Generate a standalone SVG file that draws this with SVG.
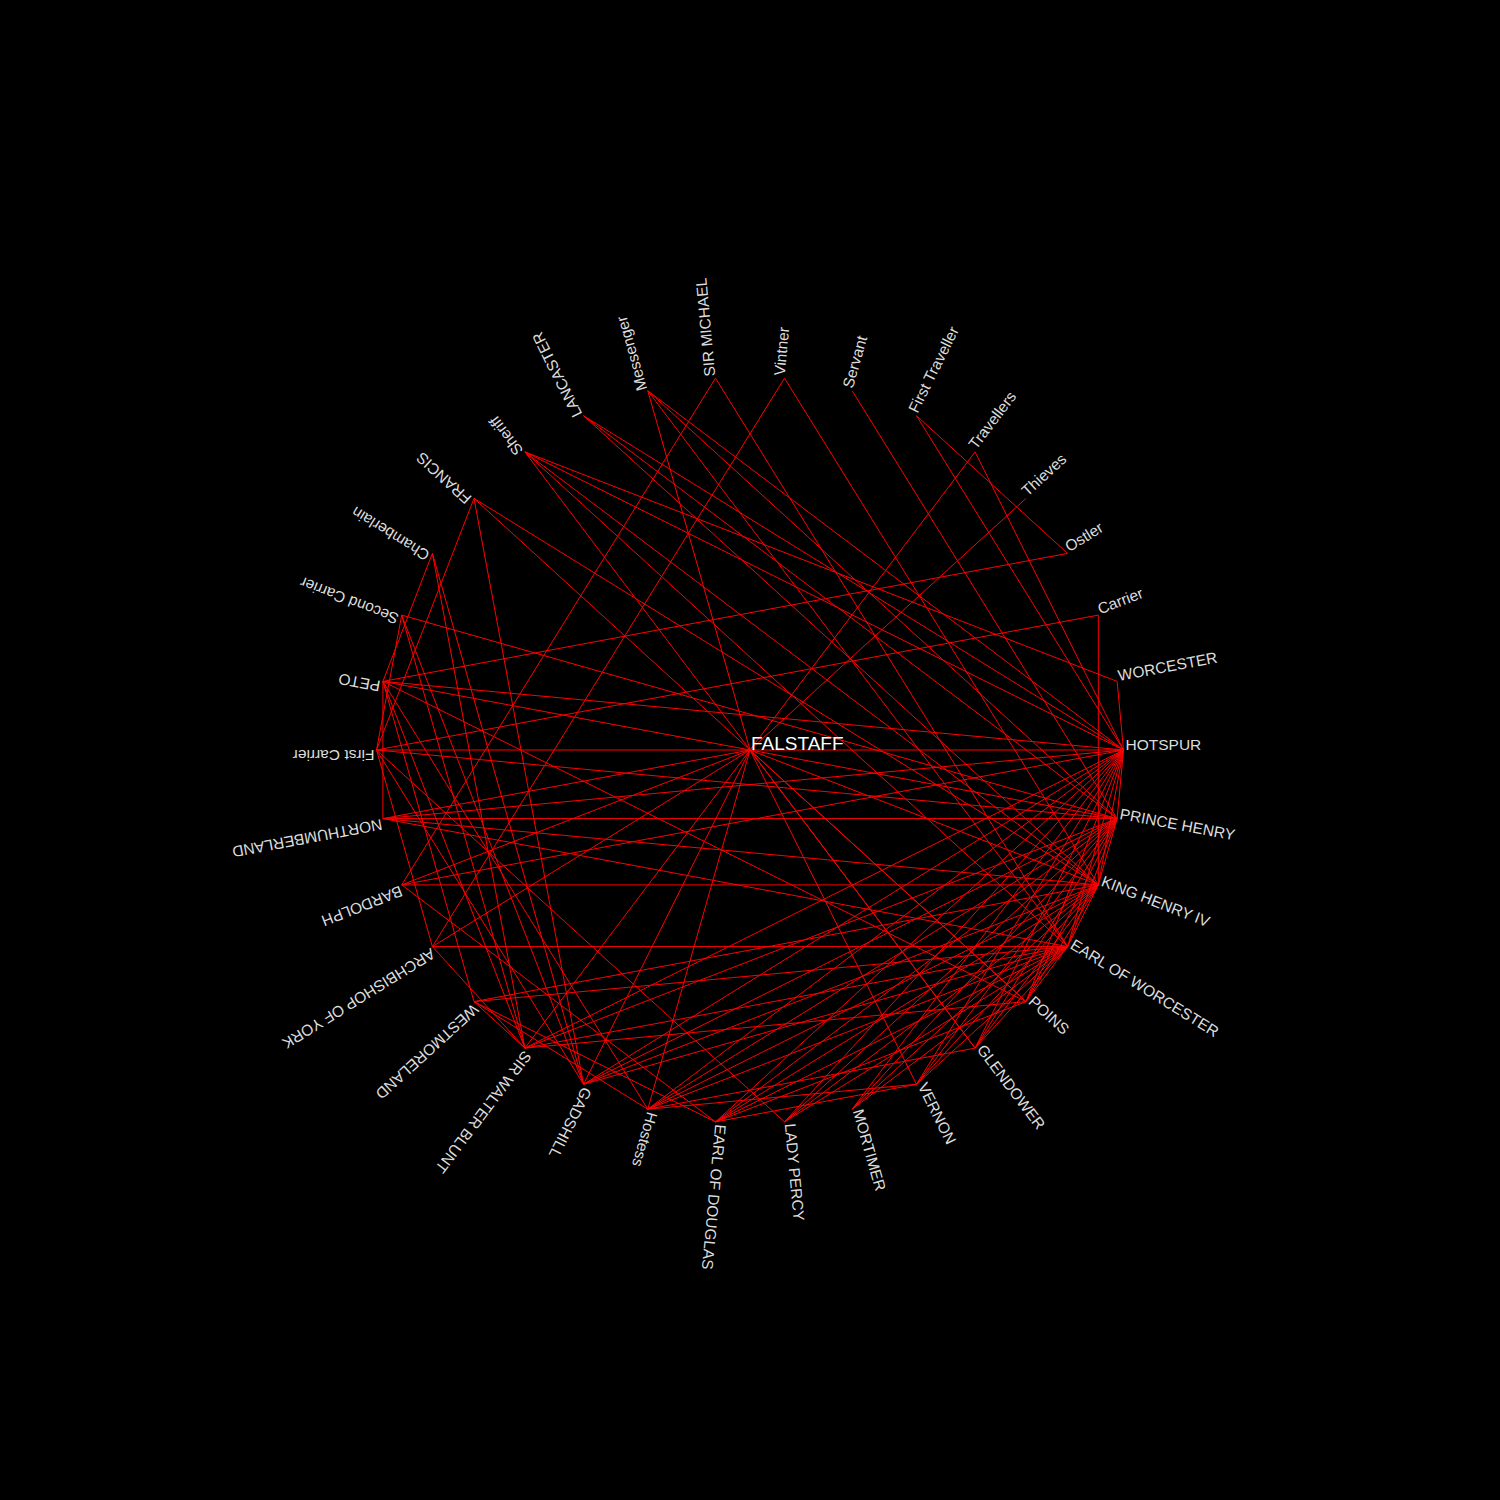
<svg xmlns="http://www.w3.org/2000/svg" width="1500" height="1500" viewBox="0 0 1500 1500">
<style>
.e line{stroke:#ff0000;stroke-width:1;fill:none}
.lbl{font-family:"Liberation Sans",Arial,Helvetica,sans-serif;font-size:15.5px;fill:#dcdcdc}
.main{font-family:"Liberation Sans",Arial,Helvetica,sans-serif;font-size:19px;fill:#ffffff}
</style>
<rect x="0" y="0" width="1500" height="1500" fill="#000000"/>
<g id="edges" class="e">
<line x1="1123.5" y1="750" x2="1117.1" y2="818.6"/>
<line x1="1123.5" y1="750" x2="1098.3" y2="884.9"/>
<line x1="1123.5" y1="750" x2="1067.6" y2="946.6"/>
<line x1="1117.1" y1="818.6" x2="1098.3" y2="884.9"/>
<line x1="1117.1" y1="818.6" x2="1067.6" y2="946.6"/>
<line x1="1098.3" y1="884.9" x2="1067.6" y2="946.6"/>
<line x1="1123.5" y1="750" x2="1117.1" y2="681.4"/>
<line x1="750" y1="750" x2="1123.5" y2="750"/>
<line x1="750" y1="750" x2="376.5" y2="750"/>
<line x1="750" y1="750" x2="647.8" y2="390.8"/>
<line x1="750" y1="750" x2="975.1" y2="451.9"/>
<line x1="750" y1="750" x2="1026.0" y2="498.4"/>
<line x1="750" y1="750" x2="401.7" y2="884.9"/>
<line x1="750" y1="750" x2="432.4" y2="946.6"/>
<line x1="750" y1="750" x2="524.9" y2="1048.1"/>
<line x1="750" y1="750" x2="583.5" y2="1084.3"/>
<line x1="750" y1="750" x2="647.8" y2="1109.2"/>
<line x1="750" y1="750" x2="1098.3" y2="884.9"/>
<line x1="750" y1="750" x2="1026.0" y2="1001.6"/>
<line x1="750" y1="750" x2="975.1" y2="1048.1"/>
<line x1="750" y1="750" x2="916.5" y2="1084.3"/>
<line x1="750" y1="750" x2="382.9" y2="818.6"/>
<line x1="1117.1" y1="681.4" x2="524.9" y2="451.9"/>
<line x1="1098.3" y1="615.1" x2="1098.3" y2="884.9"/>
<line x1="1098.3" y1="615.1" x2="376.5" y2="750"/>
<line x1="1067.6" y1="553.4" x2="382.9" y2="681.4"/>
<line x1="1067.6" y1="553.4" x2="916.5" y2="415.7"/>
<line x1="975.1" y1="451.9" x2="1123.5" y2="750"/>
<line x1="916.5" y1="415.7" x2="1123.5" y2="750"/>
<line x1="852.2" y1="390.8" x2="1117.1" y2="818.6"/>
<line x1="784.5" y1="378.1" x2="432.4" y2="946.6"/>
<line x1="784.5" y1="378.1" x2="1098.3" y2="884.9"/>
<line x1="715.5" y1="378.1" x2="401.7" y2="884.9"/>
<line x1="715.5" y1="378.1" x2="1067.6" y2="946.6"/>
<line x1="647.8" y1="390.8" x2="1123.5" y2="750"/>
<line x1="647.8" y1="390.8" x2="1117.1" y2="818.6"/>
<line x1="647.8" y1="390.8" x2="1067.6" y2="946.6"/>
<line x1="583.5" y1="415.7" x2="1123.5" y2="750"/>
<line x1="583.5" y1="415.7" x2="1117.1" y2="818.6"/>
<line x1="583.5" y1="415.7" x2="1098.3" y2="884.9"/>
<line x1="524.9" y1="451.9" x2="1123.5" y2="750"/>
<line x1="524.9" y1="451.9" x2="1098.3" y2="884.9"/>
<line x1="524.9" y1="451.9" x2="1067.6" y2="946.6"/>
<line x1="524.9" y1="451.9" x2="975.1" y2="1048.1"/>
<line x1="474.0" y1="498.4" x2="583.5" y2="1084.3"/>
<line x1="474.0" y1="498.4" x2="1098.3" y2="884.9"/>
<line x1="474.0" y1="498.4" x2="1026.0" y2="1001.6"/>
<line x1="432.4" y1="553.4" x2="583.5" y2="1084.3"/>
<line x1="432.4" y1="553.4" x2="382.9" y2="681.4"/>
<line x1="432.4" y1="553.4" x2="524.9" y2="1048.1"/>
<line x1="401.7" y1="615.1" x2="376.5" y2="750"/>
<line x1="401.7" y1="615.1" x2="1117.1" y2="818.6"/>
<line x1="401.7" y1="615.1" x2="583.5" y2="1084.3"/>
<line x1="401.7" y1="615.1" x2="524.9" y2="1048.1"/>
<line x1="382.9" y1="681.4" x2="1123.5" y2="750"/>
<line x1="382.9" y1="681.4" x2="1117.1" y2="818.6"/>
<line x1="382.9" y1="681.4" x2="1026.0" y2="1001.6"/>
<line x1="382.9" y1="681.4" x2="382.9" y2="818.6"/>
<line x1="382.9" y1="681.4" x2="524.9" y2="1048.1"/>
<line x1="382.9" y1="681.4" x2="647.8" y2="1109.2"/>
<line x1="382.9" y1="681.4" x2="474.0" y2="1001.6"/>
<line x1="376.5" y1="750" x2="1117.1" y2="818.6"/>
<line x1="376.5" y1="750" x2="583.5" y2="1084.3"/>
<line x1="376.5" y1="750" x2="784.5" y2="1121.9"/>
<line x1="376.5" y1="750" x2="474.0" y2="498.4"/>
<line x1="376.5" y1="750" x2="432.4" y2="946.6"/>
<line x1="382.9" y1="818.6" x2="1117.1" y2="818.6"/>
<line x1="382.9" y1="818.6" x2="1123.5" y2="750"/>
<line x1="382.9" y1="818.6" x2="1098.3" y2="884.9"/>
<line x1="382.9" y1="818.6" x2="1067.6" y2="946.6"/>
<line x1="401.7" y1="884.9" x2="1098.3" y2="884.9"/>
<line x1="401.7" y1="884.9" x2="1123.5" y2="750"/>
<line x1="401.7" y1="884.9" x2="715.5" y2="1121.9"/>
<line x1="432.4" y1="946.6" x2="1067.6" y2="946.6"/>
<line x1="474.0" y1="1001.6" x2="1098.3" y2="884.9"/>
<line x1="474.0" y1="1001.6" x2="1067.6" y2="946.6"/>
<line x1="474.0" y1="1001.6" x2="524.9" y2="1048.1"/>
<line x1="474.0" y1="1001.6" x2="715.5" y2="1121.9"/>
<line x1="474.0" y1="1001.6" x2="647.8" y2="1109.2"/>
<line x1="524.9" y1="1048.1" x2="1067.6" y2="946.6"/>
<line x1="524.9" y1="1048.1" x2="1026.0" y2="1001.6"/>
<line x1="524.9" y1="1048.1" x2="1117.1" y2="818.6"/>
<line x1="524.9" y1="1048.1" x2="1123.5" y2="750"/>
<line x1="524.9" y1="1048.1" x2="432.4" y2="946.6"/>
<line x1="583.5" y1="1084.3" x2="1123.5" y2="750"/>
<line x1="583.5" y1="1084.3" x2="1117.1" y2="818.6"/>
<line x1="583.5" y1="1084.3" x2="1098.3" y2="884.9"/>
<line x1="583.5" y1="1084.3" x2="1067.6" y2="946.6"/>
<line x1="647.8" y1="1109.2" x2="1123.5" y2="750"/>
<line x1="647.8" y1="1109.2" x2="1117.1" y2="818.6"/>
<line x1="647.8" y1="1109.2" x2="1098.3" y2="884.9"/>
<line x1="647.8" y1="1109.2" x2="1067.6" y2="946.6"/>
<line x1="647.8" y1="1109.2" x2="975.1" y2="1048.1"/>
<line x1="647.8" y1="1109.2" x2="916.5" y2="1084.3"/>
<line x1="715.5" y1="1121.9" x2="1123.5" y2="750"/>
<line x1="715.5" y1="1121.9" x2="1117.1" y2="818.6"/>
<line x1="715.5" y1="1121.9" x2="1098.3" y2="884.9"/>
<line x1="715.5" y1="1121.9" x2="1067.6" y2="946.6"/>
<line x1="715.5" y1="1121.9" x2="1026.0" y2="1001.6"/>
<line x1="715.5" y1="1121.9" x2="916.5" y2="1084.3"/>
<line x1="784.5" y1="1121.9" x2="1123.5" y2="750"/>
<line x1="784.5" y1="1121.9" x2="1117.1" y2="818.6"/>
<line x1="784.5" y1="1121.9" x2="1098.3" y2="884.9"/>
<line x1="784.5" y1="1121.9" x2="1067.6" y2="946.6"/>
<line x1="852.2" y1="1109.2" x2="1123.5" y2="750"/>
<line x1="852.2" y1="1109.2" x2="1117.1" y2="818.6"/>
<line x1="852.2" y1="1109.2" x2="1098.3" y2="884.9"/>
<line x1="852.2" y1="1109.2" x2="1067.6" y2="946.6"/>
<line x1="916.5" y1="1084.3" x2="1123.5" y2="750"/>
<line x1="916.5" y1="1084.3" x2="1117.1" y2="818.6"/>
<line x1="916.5" y1="1084.3" x2="1098.3" y2="884.9"/>
<line x1="916.5" y1="1084.3" x2="1067.6" y2="946.6"/>
<line x1="975.1" y1="1048.1" x2="1123.5" y2="750"/>
<line x1="975.1" y1="1048.1" x2="1117.1" y2="818.6"/>
<line x1="975.1" y1="1048.1" x2="1098.3" y2="884.9"/>
<line x1="975.1" y1="1048.1" x2="1067.6" y2="946.6"/>
<line x1="1026.0" y1="1001.6" x2="1123.5" y2="750"/>
<line x1="1026.0" y1="1001.6" x2="1117.1" y2="818.6"/>
<line x1="1026.0" y1="1001.6" x2="1098.3" y2="884.9"/>
<line x1="1026.0" y1="1001.6" x2="1067.6" y2="946.6"/>
</g>
<g id="n-falstaff"><text class="main" x="751" y="750">FALSTAFF</text></g>
<g id="n-hotspur"><text class="lbl" transform="translate(1123.5,750) rotate(0)" x="2">HOTSPUR</text></g>
<g id="n-prince-henry"><text class="lbl" transform="translate(1117.1,818.6) rotate(10.588)" x="2">PRINCE HENRY</text></g>
<g id="n-king-henry-iv"><text class="lbl" transform="translate(1098.3,884.9) rotate(21.176)" x="2">KING HENRY IV</text></g>
<g id="n-earl-of-worcester"><text class="lbl" transform="translate(1067.6,946.6) rotate(31.765)" x="2">EARL OF WORCESTER</text></g>
<g id="n-poins"><text class="lbl" transform="translate(1026.0,1001.6) rotate(42.353)" x="2">POINS</text></g>
<g id="n-glendower"><text class="lbl" transform="translate(975.1,1048.1) rotate(52.941)" x="2">GLENDOWER</text></g>
<g id="n-vernon"><text class="lbl" transform="translate(916.5,1084.3) rotate(63.529)" x="2">VERNON</text></g>
<g id="n-mortimer"><text class="lbl" transform="translate(852.2,1109.2) rotate(74.118)" x="2">MORTIMER</text></g>
<g id="n-lady-percy"><text class="lbl" transform="translate(784.5,1121.9) rotate(84.706)" x="2">LADY PERCY</text></g>
<g id="n-earl-of-douglas"><text class="lbl" transform="translate(715.5,1121.9) rotate(95.294)" x="2">EARL OF DOUGLAS</text></g>
<g id="n-hostess"><text class="lbl" transform="translate(647.8,1109.2) rotate(105.882)" x="2">Hostess</text></g>
<g id="n-gadshill"><text class="lbl" transform="translate(583.5,1084.3) rotate(116.471)" x="2">GADSHILL</text></g>
<g id="n-sir-walter-blunt"><text class="lbl" transform="translate(524.9,1048.1) rotate(127.059)" x="2">SIR WALTER BLUNT</text></g>
<g id="n-westmoreland"><text class="lbl" transform="translate(474.0,1001.6) rotate(137.647)" x="2">WESTMORELAND</text></g>
<g id="n-archbishop-of-york"><text class="lbl" transform="translate(432.4,946.6) rotate(148.235)" x="2">ARCHBISHOP OF YORK</text></g>
<g id="n-bardolph"><text class="lbl" transform="translate(401.7,884.9) rotate(158.824)" x="2">BARDOLPH</text></g>
<g id="n-northumberland"><text class="lbl" transform="translate(382.9,818.6) rotate(169.412)" x="2">NORTHUMBERLAND</text></g>
<g id="n-first-carrier"><text class="lbl" transform="translate(376.5,750) rotate(180)" x="2">First Carrier</text></g>
<g id="n-peto"><text class="lbl" transform="translate(382.9,681.4) rotate(190.588)" x="2">PETO</text></g>
<g id="n-second-carrier"><text class="lbl" transform="translate(401.7,615.1) rotate(201.176)" x="2">Second Carrier</text></g>
<g id="n-chamberlain"><text class="lbl" transform="translate(432.4,553.4) rotate(211.765)" x="2">Chamberlain</text></g>
<g id="n-francis"><text class="lbl" transform="translate(474.0,498.4) rotate(222.353)" x="2">FRANCIS</text></g>
<g id="n-sheriff"><text class="lbl" transform="translate(524.9,451.9) rotate(232.941)" x="2">Sheriff</text></g>
<g id="n-lancaster"><text class="lbl" transform="translate(583.5,415.7) rotate(243.529)" x="2">LANCASTER</text></g>
<g id="n-messenger"><text class="lbl" transform="translate(647.8,390.8) rotate(254.118)" x="2">Messenger</text></g>
<g id="n-sir-michael"><text class="lbl" transform="translate(715.5,378.1) rotate(264.706)" x="2">SIR MICHAEL</text></g>
<g id="n-vintner"><text class="lbl" transform="translate(784.5,378.1) rotate(275.294)" x="2">Vintner</text></g>
<g id="n-servant"><text class="lbl" transform="translate(852.2,390.8) rotate(285.882)" x="2">Servant</text></g>
<g id="n-first-traveller"><text class="lbl" transform="translate(916.5,415.7) rotate(296.471)" x="2">First Traveller</text></g>
<g id="n-travellers"><text class="lbl" transform="translate(975.1,451.9) rotate(307.059)" x="2">Travellers</text></g>
<g id="n-thieves"><text class="lbl" transform="translate(1026.0,498.4) rotate(317.647)" x="2">Thieves</text></g>
<g id="n-ostler"><text class="lbl" transform="translate(1067.6,553.4) rotate(328.235)" x="2">Ostler</text></g>
<g id="n-carrier"><text class="lbl" transform="translate(1098.3,615.1) rotate(338.824)" x="2">Carrier</text></g>
<g id="n-worcester"><text class="lbl" transform="translate(1117.1,681.4) rotate(349.412)" x="2">WORCESTER</text></g>
</svg>
